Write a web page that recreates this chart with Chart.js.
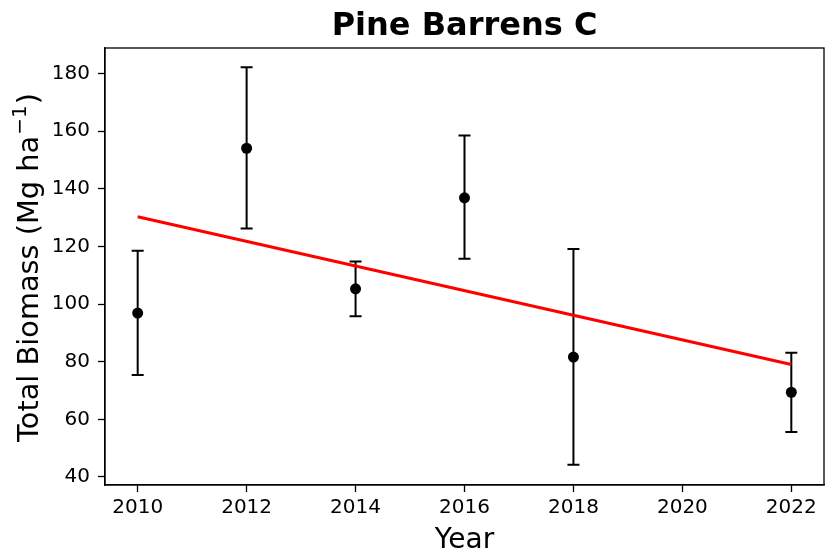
<!DOCTYPE html>
<html>
<head>
<meta charset="utf-8">
<script src="https://cdn.jsdelivr.net/npm/chart.js@4/dist/chart.umd.min.js"></script>
<style>
  html, body { margin: 0; padding: 0; background: #fff; }
  #wrap { width: 825px; height: 553px; }
</style>
</head>
<body>
<div id="wrap"><canvas id="chart" width="825" height="553"></canvas></div>
<script>
  // Pine Barrens C - total biomass per survey year, mean with error bars + linear trend
  const chartTitle = "Pine Barrens C";
  const xTitle = "Year";
  // y title: main part, superscript, closing part
  const yTitleParts = ["Total Biomass (Mg ha", "\u22121", ")"];

  const years = [2010, 2012, 2014, 2016, 2018, 2022];
  const means = [96.9, 154.1, 105.3, 136.9, 81.6, 69.4];
  const errLow = [75.4, 126.2, 95.8, 115.7, 44.2, 55.6];
  const errHigh = [118.5, 182.2, 114.8, 158.5, 119.1, 83.1];

  const trendYears = [2010, 2022];
  const trendValues = [130.3, 79.0];

  const xTicks = [2010, 2012, 2014, 2016, 2018, 2020, 2022];
  const yTicks = [40, 60, 80, 100, 120, 140, 160, 180];

  const FONT = "'DejaVu Sans', sans-serif";

  // error bars under the markers, drawn through the chart's own scales
  const errorBars = {
    id: "errorBars",
    beforeDatasetsDraw(chart) {
      const { ctx, scales } = chart;
      ctx.save();
      ctx.strokeStyle = "#000";
      ctx.lineWidth = 2;
      years.forEach((yr, i) => {
        const px = scales.x.getPixelForValue(yr);
        const lo = scales.y.getPixelForValue(errLow[i]);
        const hi = scales.y.getPixelForValue(errHigh[i]);
        ctx.beginPath();
        ctx.moveTo(px, lo);
        ctx.lineTo(px, hi);
        ctx.moveTo(px - 6, lo);
        ctx.lineTo(px + 6, lo);
        ctx.moveTo(px - 6, hi);
        ctx.lineTo(px + 6, hi);
        ctx.stroke();
      });
      ctx.restore();
    },
  };

  // box frame, title over the axes, y title with a real superscript
  const frameAndTitles = {
    id: "frameAndTitles",
    afterDraw(chart) {
      const { ctx, chartArea: a } = chart;
      ctx.save();
      ctx.strokeStyle = "#000";
      ctx.lineWidth = 1.3;
      ctx.strokeRect(a.left, a.top, a.right - a.left, a.bottom - a.top);

      ctx.fillStyle = "#000";
      ctx.font = "bold 32px " + FONT;
      ctx.textAlign = "center";
      ctx.textBaseline = "alphabetic";
      ctx.fillText(chartTitle, (a.left + a.right) / 2, 35);

      const big = "28.8px " + FONT;
      const small = "20px " + FONT;
      ctx.textAlign = "left";
      ctx.font = big;
      const w1 = ctx.measureText(yTitleParts[0]).width;
      const w3 = ctx.measureText(yTitleParts[2]).width;
      ctx.font = small;
      const w2 = ctx.measureText(yTitleParts[1]).width + 2;
      const total = w1 + w2 + w3;
      ctx.translate(37.5, (a.top + a.bottom) / 2 + 1);
      ctx.rotate(-Math.PI / 2);
      const x0 = -total / 2;
      ctx.font = big;
      ctx.fillText(yTitleParts[0], x0, 0);
      ctx.font = small;
      ctx.fillText(yTitleParts[1], x0 + w1 + 1, -11.5);
      ctx.font = big;
      ctx.fillText(yTitleParts[2], x0 + w1 + w2, 0);
      ctx.restore();
    },
  };

  new Chart(document.getElementById("chart").getContext("2d"), {
    data: {
      datasets: [
        {
          type: "line",
          label: "trend",
          data: trendYears.map((x, i) => ({ x, y: trendValues[i] })),
          borderColor: "#ff0000",
          borderWidth: 3,
          pointRadius: 0,
          pointHoverRadius: 0,
          fill: false,
          order: 0,
        },
        {
          type: "scatter",
          label: "mean",
          data: years.map((x, i) => ({ x, y: means[i] })),
          backgroundColor: "#000",
          borderColor: "#000",
          pointRadius: 5.5,
          pointHoverRadius: 5.5,
          pointBorderWidth: 0,
          order: 1,
        },
      ],
    },
    options: {
      responsive: false,
      animation: false,
      devicePixelRatio: 1,
      events: [],
      layout: { autoPadding: false, padding: { top: 48, right: 1, bottom: 0, left: 0 } },
      plugins: {
        legend: { display: false },
        tooltip: { enabled: false },
        title: { display: false },
      },
      scales: {
        x: {
          type: "linear",
          min: 2009.4,
          max: 2022.6,
          afterBuildTicks: (s) => { s.ticks = xTicks.map((v) => ({ value: v })); },
          afterFit: (s) => {
            s.height = 68;
            s.paddingLeft = 0;
            s.paddingRight = 0;
          },
          ticks: {
            color: "#000",
            font: { family: FONT, size: 20 },
            padding: 4,
            maxRotation: 0,
            callback: (v) => String(v),
          },
          grid: {
            drawOnChartArea: false,
            drawTicks: true,
            tickLength: 7,
            tickWidth: 1.3,
            tickColor: "#000",
          },
          border: { display: true, color: "#000", width: 1.3 },
          title: {
            display: true,
            text: xTitle,
            color: "#000",
            font: { family: FONT, size: 28, lineHeight: 0.86 },
            padding: { top: 0, bottom: 0 },
          },
        },
        y: {
          type: "linear",
          min: 37.2,
          max: 188.9,
          afterBuildTicks: (s) => { s.ticks = yTicks.map((v) => ({ value: v })); },
          afterFit: (s) => {
            s.width = 105;
            s.paddingTop = 0;
            s.paddingBottom = 0;
          },
          ticks: {
            color: "#000",
            font: { family: FONT, size: 20 },
            padding: 8,
            callback: (v) => String(v),
          },
          grid: {
            drawOnChartArea: false,
            drawTicks: true,
            tickLength: 7,
            tickWidth: 1.3,
            tickColor: "#000",
          },
          border: { display: true, color: "#000", width: 1.3 },
          title: { display: false },
        },
      },
    },
    plugins: [errorBars, frameAndTitles],
  });
</script>
</body>
</html>
